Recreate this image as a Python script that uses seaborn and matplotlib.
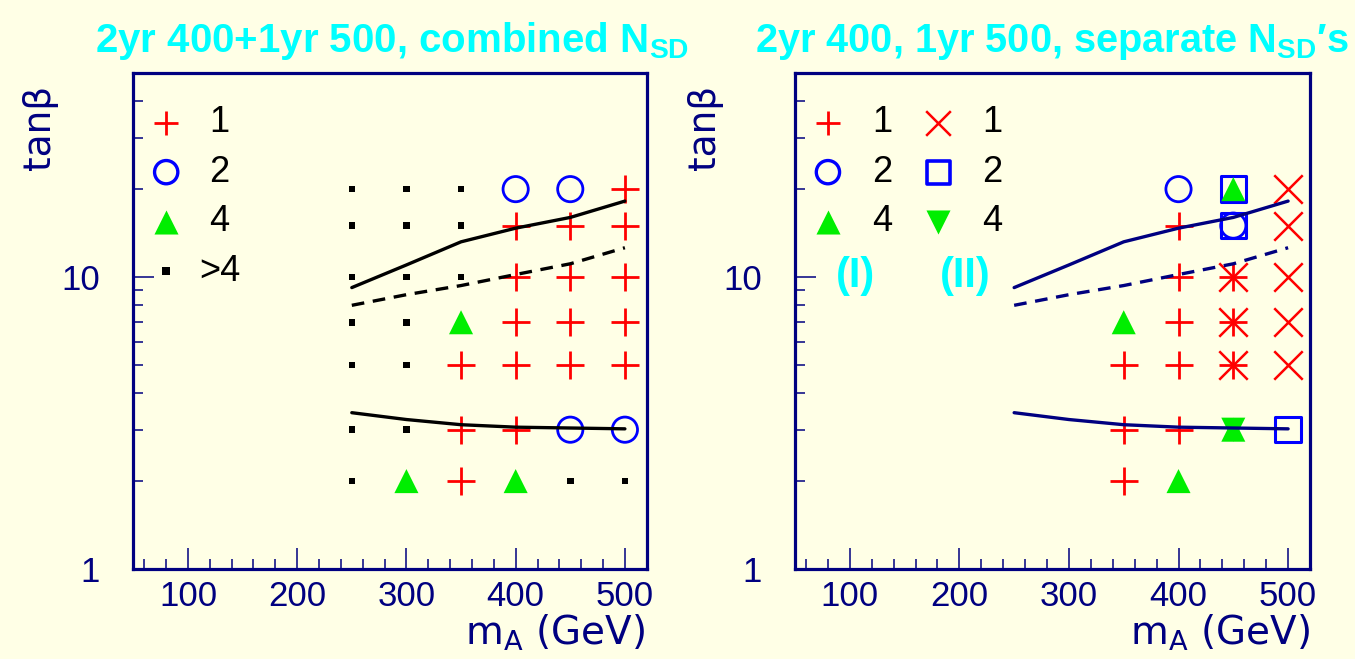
import matplotlib
matplotlib.use("Agg")
import matplotlib.pyplot as plt
from matplotlib.ticker import FixedLocator, FixedFormatter, MultipleLocator, LogLocator, NullFormatter
import seaborn as sns

# ---------------- data ----------------
# exclusion curves in the (m_A, tan beta) plane
curve_mA = [250, 300, 350, 400, 450, 500]
curve_upper = [9.2, 11.0, 13.2, 14.7, 16.0, 18.2]
curve_dashed = [8.0, 8.7, 9.35, 10.2, 11.1, 12.6]
curve_lower = [3.43, 3.25, 3.12, 3.06, 3.04, 3.02]

# combined N_SD (left panel)
comb_n1_mA = [500, 400, 450, 500, 400, 450, 500, 400, 450, 500, 350, 400, 450, 500, 350, 400, 350]
comb_n1_tb = [20, 15, 15, 15, 10, 10, 10, 7, 7, 7, 5, 5, 5, 5, 3, 3, 2]
comb_n2_mA = [400, 450, 450, 500]
comb_n2_tb = [20, 20, 3, 3]
comb_n4_mA = [350, 300, 400]
comb_n4_tb = [7, 2, 2]
comb_ngt4_mA = [250, 300, 350, 250, 300, 350, 250, 300, 350, 250, 300, 250, 300, 250, 300, 250, 450, 500]
comb_ngt4_tb = [20, 20, 20, 15, 15, 15, 10, 10, 10, 7, 7, 5, 5, 3, 3, 2, 2, 2]

# separate N_SD's (right panel): set (I) and set (II)
sepI_n1_mA = [400, 400, 450, 400, 450, 350, 400, 450, 350, 400, 350]
sepI_n1_tb = [15, 10, 10, 7, 7, 5, 5, 5, 3, 3, 2]
sepI_n2_mA = [400, 450]
sepI_n2_tb = [20, 15]
sepI_n4_mA = [450, 350, 400, 450]
sepI_n4_tb = [20, 7, 2, 3]
sepII_n1_mA = [500, 500, 500, 500, 500, 450, 450, 450]
sepII_n1_tb = [20, 15, 10, 7, 5, 10, 7, 5]
sepII_n2_mA = [450, 450, 500]
sepII_n2_tb = [20, 15, 3]
sepII_n4_mA = [450]
sepII_n4_tb = [3]

legend_combined = ["1", "2", "4", ">4"]
legend_separate = ["1", "2", "4"]

# ---------------- style ----------------
BG = "#FFFFE6"
NAVY = "#000080"
CYAN = "#00FFFF"
RED = "#FF0000"
BLUE = "#0000FF"
GREEN = "#00EE00"

sns.set_style("ticks")
plt.rcParams["font.family"] = ["Liberation Sans", "DejaVu Sans"]
plt.rcParams["mathtext.default"] = "regular"

TICK_FONT = ["Liberation Sans", "DejaVu Sans"]
LABEL_FONT = ["DejaVu Sans"]

fig = plt.figure(figsize=(13.55, 6.59), dpi=100, facecolor=BG)
axL = fig.add_axes([0.0984, 0.1366, 0.3789, 0.7527])
axR = fig.add_axes([0.5867, 0.1366, 0.3801, 0.7527])

S_PLUS, LW_PLUS = 380, 2.0
S_CIRC, LW_CIRC = 330, 2.0
S_TRI = 300
S_DOT = 22
S_X, LW_X = 420, 1.8
S_SQ, LW_SQ = 340, 2.2


def plus(ax, x, y, **kw):
    sns.scatterplot(x=x, y=y, marker="+", s=S_PLUS, color=RED, linewidth=LW_PLUS, ax=ax, zorder=4, **kw)


def cross(ax, x, y, **kw):
    sns.scatterplot(x=x, y=y, marker="x", s=S_X, color=RED, linewidth=LW_X, ax=ax, zorder=4, **kw)


def circle(ax, x, y, **kw):
    sns.scatterplot(x=x, y=y, marker="o", s=S_CIRC, color=BLUE, facecolor="none",
                    edgecolor=BLUE, linewidth=LW_CIRC, ax=ax, zorder=4, **kw)


def square(ax, x, y, **kw):
    sns.scatterplot(x=x, y=y, marker="s", s=S_SQ, color=BLUE, facecolor="none",
                    edgecolor=BLUE, linewidth=LW_SQ, ax=ax, zorder=3, **kw)


def tri(ax, x, y, marker="^", **kw):
    sns.scatterplot(x=x, y=y, marker=marker, s=S_TRI, color=GREEN, edgecolor="none",
                    linewidth=0, ax=ax, zorder=5, **kw)


def dot(ax, x, y, **kw):
    sns.scatterplot(x=x, y=y, marker="s", s=S_DOT, color="black", edgecolor="none",
                    linewidth=0, ax=ax, zorder=4, **kw)


def curves(ax, color):
    sns.lineplot(x=curve_mA, y=curve_upper, color=color, linewidth=2.4, ax=ax, zorder=6)
    sns.lineplot(x=curve_mA, y=curve_dashed, color=color, linewidth=2.4, ax=ax, zorder=6,
                 dashes=False, linestyle=(0, (3.8, 2.6)))
    sns.lineplot(x=curve_mA, y=curve_lower, color=color, linewidth=2.4, ax=ax, zorder=6)


def frame(ax):
    ax.set_facecolor(BG)
    ax.set_yscale("log")
    ax.set_xlim(50, 520)
    ax.set_ylim(1, 50)
    for sp in ax.spines.values():
        sp.set_visible(True)
        sp.set_color(NAVY)
        sp.set_linewidth(2.3)
    ax.xaxis.set_major_locator(MultipleLocator(100))
    ax.xaxis.set_minor_locator(MultipleLocator(20))
    ax.yaxis.set_major_locator(FixedLocator([1, 10]))
    ax.yaxis.set_major_formatter(FixedFormatter(["1", "10"]))
    ax.yaxis.set_minor_locator(LogLocator(base=10, subs=[2, 3, 4, 5, 6, 7, 8, 9]))
    ax.yaxis.set_minor_formatter(NullFormatter())
    ax.tick_params(which="both", direction="in", color=NAVY, width=1.1,
                   top=False, right=False, labelcolor=NAVY, labelsize=25)
    ax.tick_params(which="major", length=15)
    ax.tick_params(which="minor", length=7.5)
    ax.tick_params(axis="x", which="major", pad=8)
    ax.tick_params(axis="y", which="major", pad=24)
    for lab in ax.get_xticklabels() + ax.get_yticklabels():
        lab.set_family(TICK_FONT)
    ax.set_xlabel("")
    ax.set_ylabel("")


# ---------------- left panel: combined ----------------
dot(axL, comb_ngt4_mA, comb_ngt4_tb)
plus(axL, comb_n1_mA, comb_n1_tb)
circle(axL, comb_n2_mA, comb_n2_tb)
tri(axL, comb_n4_mA, comb_n4_tb)
curves(axL, "black")
frame(axL)

# key
kx, lx = 0.064, 0.168
key_y = [0.9, 0.8, 0.7, 0.6]
T = axL.transAxes
axL.scatter([kx], [key_y[0]], marker="+", s=S_PLUS * 0.75, color=RED, linewidth=LW_PLUS, transform=T)
axL.scatter([kx], [key_y[1]], marker="o", s=S_CIRC * 0.85, facecolor="none", edgecolor=BLUE, linewidth=LW_CIRC + 0.4, transform=T)
axL.scatter([kx], [key_y[2]], marker="^", s=S_TRI, color=GREEN, linewidth=0, transform=T)
axL.scatter([kx], [key_y[3]], marker="s", s=S_DOT * 1.6, color="black", linewidth=0, transform=T)
for yy, lab in zip(key_y, legend_combined):
    axL.text(lx, yy, lab, transform=T, ha="center", va="center", fontsize=26,
             color="black", family=TICK_FONT)

# ---------------- right panel: separate ----------------
plus(axR, sepI_n1_mA, sepI_n1_tb)
cross(axR, sepII_n1_mA, sepII_n1_tb)
square(axR, sepII_n2_mA, sepII_n2_tb)
circle(axR, sepI_n2_mA, sepI_n2_tb)
tri(axR, sepII_n4_mA, sepII_n4_tb, marker="v")
tri(axR, sepI_n4_mA, sepI_n4_tb, marker="^")
curves(axR, NAVY)
frame(axR)

T = axR.transAxes
kxI, lxI, kxII, lxII = 0.064, 0.169, 0.278, 0.383
axR.scatter([kxI], [key_y[0]], marker="+", s=S_PLUS * 0.75, color=RED, linewidth=LW_PLUS, transform=T)
axR.scatter([kxI], [key_y[1]], marker="o", s=S_CIRC * 0.85, facecolor="none", edgecolor=BLUE, linewidth=LW_CIRC + 0.4, transform=T)
axR.scatter([kxI], [key_y[2]], marker="^", s=S_TRI, color=GREEN, linewidth=0, transform=T)
axR.scatter([kxII], [key_y[0]], marker="x", s=S_X * 0.75, color=RED, linewidth=LW_X, transform=T)
axR.scatter([kxII], [key_y[1]], marker="s", s=S_SQ * 0.8, facecolor="none", edgecolor=BLUE, linewidth=LW_SQ + 0.4, transform=T)
axR.scatter([kxII], [key_y[2]], marker="v", s=S_TRI, color=GREEN, linewidth=0, transform=T)
for yy, lab in zip(key_y[:3], legend_separate):
    axR.text(lxI, yy, lab, transform=T, ha="center", va="center", fontsize=26, color="black", family=TICK_FONT)
    axR.text(lxII, yy, lab, transform=T, ha="center", va="center", fontsize=26, color="black", family=TICK_FONT)
axR.text(0.117, 0.59, "(I)", transform=T, ha="center", va="center", fontsize=30,
         fontweight="bold", color=CYAN, family=TICK_FONT)
axR.text(0.330, 0.59, "(II)", transform=T, ha="center", va="center", fontsize=30,
         fontweight="bold", color=CYAN, family=TICK_FONT)

# ---------------- titles and axis labels ----------------
W = 1355.0
renderer = fig.canvas.get_renderer()


def fitted_title(x_left, x_right, text):
    t = fig.text(x_left / W, 1 - 52 / 659, text, ha="left", va="baseline", fontsize=33,
                 fontweight="bold", color=CYAN, family=TICK_FONT)
    width = t.get_window_extent(renderer).width
    t.set_fontsize(33 * (x_right - x_left) / width)
    return t


fitted_title(95, 690, r"2yr 400+1yr 500, combined N$_{SD}$")
fitted_title(755, 1350, r"2yr 400, 1yr 500, separate N$_{SD}$′s")

for x0 in (40, 705):
    fig.text(x0 / W, 1 - 127 / 659, "tanβ", rotation=90, ha="center", va="center",
             fontsize=27, color=NAVY, family=LABEL_FONT)
for x1 in (645, 1310):
    fig.text(x1 / W, 1 - 645 / 659, r"m$_{A}$ (GeV)", ha="right", va="baseline",
             fontsize=28, color=NAVY, family=LABEL_FONT)

fig.savefig("out.png", dpi=100, facecolor=BG)
